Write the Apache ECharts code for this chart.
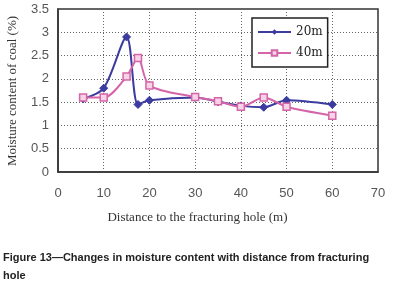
<!DOCTYPE html>
<html>
<head>
<meta charset="utf-8">
<script src="https://cdn.jsdelivr.net/npm/echarts@6/dist/echarts.min.js"></script>
<style>
  html, body { margin: 0; padding: 0; background: #fff; }
  #chart { width: 395px; height: 292px; }
</style>
</head>
<body>
<div id="chart"></div>
<script>
// distance to the fracturing hole (m)
const distances = [5.5, 10, 15, 17.5, 20, 30, 35, 40, 45, 50, 60];
// moisture content (%)
const moisture20m = [1.57, 1.80, 2.90, 1.45, 1.54, 1.60, 1.51, 1.42, 1.39, 1.54, 1.45];
const moisture40m = [1.60, 1.60, 2.05, 2.45, 1.86, 1.61, 1.52, 1.40, 1.60, 1.40, 1.21];
const seriesNames = ['20m', '40m'];

const pair = (xs, ys) => xs.map((x, i) => [x, ys[i]]);

const chart = echarts.init(document.getElementById('chart'));
const option = {
  animation: false,
  backgroundColor: '#fff',
  grid: {
    left: 58, right: 17, top: 9, bottom: 120,
    show: true, borderColor: '#333', borderWidth: 1.5
  },
  xAxis: {
    type: 'value', min: 0, max: 70, interval: 10,
    axisLine: { show: true, lineStyle: { color: '#333', width: 1.5 } },
    axisTick: { show: false },
    axisLabel: { color: '#555', fontFamily: 'Liberation Sans', fontSize: 13, margin: 15 },
    splitLine: { show: true, lineStyle: { color: '#666', type: [1, 2], width: 1 } }
  },
  yAxis: {
    type: 'value', min: 0, max: 3.5, interval: 0.5,
    axisLine: { show: true, lineStyle: { color: '#333', width: 1.5 } },
    axisTick: { show: false },
    axisLabel: { color: '#555', fontFamily: 'Liberation Sans', fontSize: 13, margin: 9 },
    splitLine: { show: true, lineStyle: { color: '#666', type: [1, 2], width: 1 } }
  },
  legend: {
    orient: 'vertical', left: 252, top: 18,
    padding: [8, 5, 8, 5], itemGap: 9,
    itemWidth: 33, itemHeight: 7,
    borderColor: '#222', borderWidth: 1.5, backgroundColor: '#fff',
    textStyle: { fontFamily: 'DejaVu Serif', fontSize: 12, color: '#222' },
    data: seriesNames
  },
  graphic: [
    {
      type: 'text', left: 'center', top: 211,
      style: { text: 'Distance to the fracturing hole (m)', font: '13px "Liberation Serif"', fill: '#333' }
    },
    {
      type: 'text', x: 13, y: 91, rotation: Math.PI / 2,
      style: { text: 'Moisture content of coal (%)', font: '13px "Liberation Serif"', fill: '#333', align: 'center', verticalAlign: 'middle' }
    },
    {
      type: 'text', left: 3, top: 249,
      style: {
        text: 'Figure 13\u2014Changes in moisture content with distance from fracturing\nhole',
        font: 'bold 11px "Liberation Sans"', fill: '#222', lineHeight: 18
      }
    }
  ],
  series: [
    {
      name: seriesNames[0], type: 'line', smooth: 0.3,
      data: pair(distances, moisture20m),
      symbol: 'diamond', symbolSize: 8,
      lineStyle: { color: '#3b3ba0', width: 2 },
      itemStyle: { color: '#3b3ba0', borderColor: '#3b3ba0' }
    },
    {
      name: seriesNames[1], type: 'line', smooth: 0.3,
      data: pair(distances, moisture40m),
      symbol: 'rect', symbolSize: 7,
      lineStyle: { color: '#d565a8', width: 2 },
      itemStyle: { color: '#f6d3e6', borderColor: '#d565a8', borderWidth: 1.5 }
    }
  ]
};
chart.setOption(option);
</script>
</body>
</html>
